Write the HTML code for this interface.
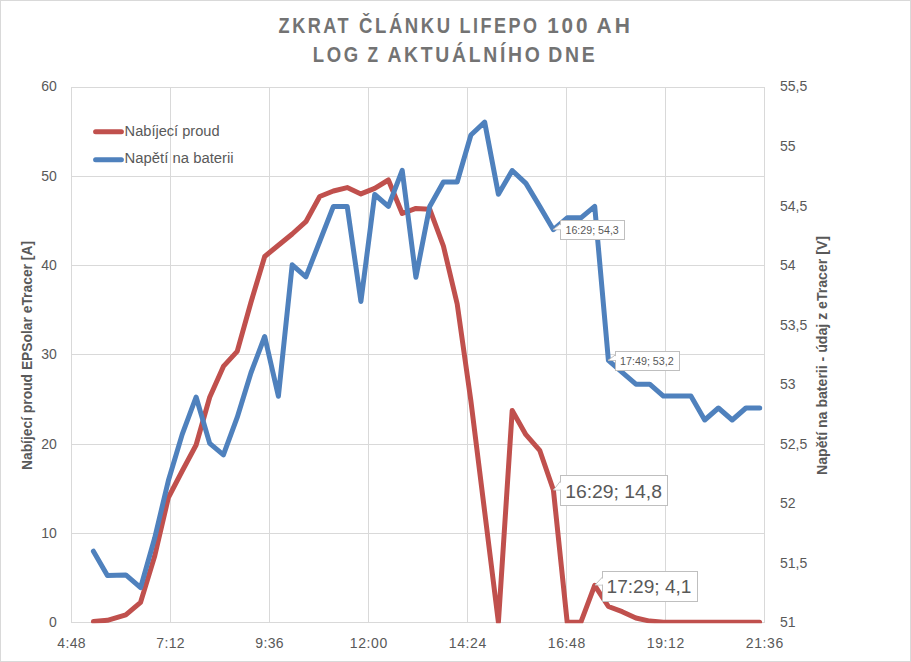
<!DOCTYPE html><html><head><meta charset="utf-8"><style>html,body{margin:0;padding:0;background:#fff}svg{display:block}text{font-family:"Liberation Sans",sans-serif}</style></head><body>
<svg width="911" height="662" viewBox="0 0 911 662">
<rect x="0.5" y="0.5" width="910" height="661" fill="#fff" stroke="#d9d9d9" stroke-width="1"/>
<defs><clipPath id="pa"><rect x="70" y="80" width="696" height="543.3"/></clipPath></defs>
<path d="M71.5 87V622.5 M170.5 87V622.5 M269.5 87V622.5 M368.5 87V622.5 M467.5 87V622.5 M566.5 87V622.5 M665.5 87V622.5 M764.5 87V622.5 M71 87.5H765 M71 176.5H765 M71 265.5H765 M71 354.5H765 M71 444.5H765 M71 533.5H765 M71 622.5H765" stroke="#d9d9d9" stroke-width="1" fill="none"/>
<g clip-path="url(#pa)" fill="none" stroke-width="5" stroke-linejoin="round" stroke-linecap="round">
<polyline points="93.4,621.6 107.4,620.3 125.8,614.8 140.6,602.3 154.7,556.0 168.4,497.5 182.2,471.0 196.1,445.0 209.7,397.3 223.4,366.4 237.2,351.4 250.9,302.5 264.7,256.5 278.4,245.3 292.2,234.0 305.9,221.7 319.7,196.5 333.4,191.0 347.2,187.6 360.9,193.9 374.7,188.4 388.4,180.0 402.2,213.5 415.9,208.4 429.7,209.2 443.4,246.0 457.2,304.0 470.9,401.0 484.7,512.0 498.4,622.2 512.2,410.5 525.9,434.7 539.7,450.3 553.4,490.0 567.2,622.2 580.9,622.2 594.7,585.4 608.4,606.5 622.2,611.7 635.9,618.0 649.7,621.1 663.4,622.2 677.1,622.2 690.9,622.2 704.6,622.2 718.4,622.2 732.1,622.2 745.9,622.2 759.6,622.2" stroke="#c0504d"/>
<polyline points="93.4,551.2 107.4,575.4 125.8,574.9 140.6,587.6 154.7,538.0 168.4,480.5 182.2,434.4 196.1,397.0 209.7,443.4 223.4,454.8 237.2,417.4 250.9,373.0 264.7,336.5 278.4,396.3 292.2,264.8 305.9,276.9 319.7,241.5 333.4,206.4 347.2,206.4 360.9,301.5 374.7,194.5 388.4,206.4 402.2,170.3 415.9,277.2 429.7,206.5 443.4,182.0 457.2,182.0 470.9,135.0 484.7,122.2 498.4,194.3 512.2,170.5 525.9,183.4 539.7,206.4 553.4,229.7 567.2,217.8 580.9,217.8 594.7,206.3 608.4,360.4 622.2,372.3 635.9,384.2 649.7,384.2 663.4,396.1 677.2,396.1 690.9,396.1 704.7,420.0 718.4,408.0 732.2,420.0 745.9,408.0 759.7,408.0" stroke="#4f81bd"/>
</g>
<g fill="#737373" font-weight="bold" font-size="21.5" letter-spacing="3">
<text transform="translate(278.60,32.8) scale(0.8424,1)">ZKRAT</text>
<text transform="translate(359.00,32.8) scale(0.8627,1)">ČLÁNKU</text>
<text transform="translate(459.40,32.8) scale(0.8384,1)">LIFEPO</text>
<text transform="translate(547.20,32.8) scale(0.9628,1)">100</text>
<text transform="translate(596.60,32.8) scale(0.9769,1)">AH</text>
<text transform="translate(312.80,61.9) scale(0.8607,1)">LOG</text>
<text transform="translate(367.60,61.9) scale(0.8044,1)">Z</text>
<text transform="translate(387.40,61.9) scale(0.9016,1)">AKTUÁLNÍHO</text>
<text transform="translate(548.20,61.9) scale(0.9028,1)">DNE</text>
</g>
<g fill="#595959" font-size="14">
<text x="56.8" y="91.2" text-anchor="end">60</text>
<text x="56.8" y="181.2" text-anchor="end">50</text>
<text x="56.8" y="270.2" text-anchor="end">40</text>
<text x="56.8" y="359.2" text-anchor="end">30</text>
<text x="56.8" y="449.2" text-anchor="end">20</text>
<text x="56.8" y="538.2" text-anchor="end">10</text>
<text x="56.8" y="627.2" text-anchor="end">0</text>
<text x="780" y="91.2">55,5</text>
<text x="780" y="151.2">55</text>
<text x="780" y="211.2">54,5</text>
<text x="780" y="270.2">54</text>
<text x="780" y="330.2">53,5</text>
<text x="780" y="389.2">53</text>
<text x="780" y="449.2">52,5</text>
<text x="780" y="508.2">52</text>
<text x="780" y="568.2">51,5</text>
<text x="780" y="627.2">51</text>
<text x="71.5" y="648" text-anchor="middle" textLength="28.3" lengthAdjust="spacing">4:48</text>
<text x="170.5" y="648" text-anchor="middle" textLength="28.3" lengthAdjust="spacing">7:12</text>
<text x="269.5" y="648" text-anchor="middle" textLength="28.3" lengthAdjust="spacing">9:36</text>
<text x="368.5" y="648" text-anchor="middle" textLength="37.6" lengthAdjust="spacing">12:00</text>
<text x="467.5" y="648" text-anchor="middle" textLength="37.6" lengthAdjust="spacing">14:24</text>
<text x="566.5" y="648" text-anchor="middle" textLength="37.6" lengthAdjust="spacing">16:48</text>
<text x="665.5" y="648" text-anchor="middle" textLength="37.6" lengthAdjust="spacing">19:12</text>
<text x="764.5" y="648" text-anchor="middle" textLength="37.6" lengthAdjust="spacing">21:36</text>
</g>
<g fill="#595959" font-weight="bold" font-size="14">
<text transform="translate(32,470) rotate(-90)" textLength="229" lengthAdjust="spacingAndGlyphs">Nabíjecí proud EPSolar eTracer [A]</text>
<text transform="translate(827.2,475) rotate(-90)" textLength="239" lengthAdjust="spacingAndGlyphs">Napětí na baterii - údaj z eTracer [V]</text>
</g>
<g stroke-width="5" stroke-linecap="round"><path d="M95.6 131.8H121.4" stroke="#c0504d"/><path d="M95.6 159.8H121.4" stroke="#4f81bd"/></g>
<g fill="#595959" font-size="14">
<text x="124.6" y="135.8" textLength="95" lengthAdjust="spacingAndGlyphs">Nabíjecí proud</text>
<text x="124.6" y="162.9" textLength="109" lengthAdjust="spacingAndGlyphs">Napětí na baterii</text>
</g>
<path d="M560.5 223.8 L553 229.7 L560.5 229.7" fill="#fff" stroke="#bfbfbf" stroke-width="1"/>
<rect x="560.5" y="220.5" width="64" height="19" fill="#fff" stroke="#bfbfbf" stroke-width="1"/>
<path d="M561 224.8 L554.5 229.2 L561 229.2Z" fill="#fff"/>
<text x="565.5" y="234.2" font-size="11" fill="#595959" textLength="53.299999999999955" lengthAdjust="spacingAndGlyphs">16:29; 54,3</text>
<path d="M615.5 354.8 L608 360.4 L615.5 360.4" fill="#fff" stroke="#bfbfbf" stroke-width="1"/>
<rect x="615.5" y="351.5" width="64" height="19" fill="#fff" stroke="#bfbfbf" stroke-width="1"/>
<path d="M616 355.8 L609.5 359.9 L616 359.9Z" fill="#fff"/>
<text x="620" y="365.2" font-size="11" fill="#595959" textLength="53.799999999999955" lengthAdjust="spacingAndGlyphs">17:49; 53,2</text>
<path d="M560.5 481.0 L553.5 490 L560.5 490" fill="#fff" stroke="#bfbfbf" stroke-width="1"/>
<rect x="560.5" y="475.5" width="107" height="30" fill="#fff" stroke="#bfbfbf" stroke-width="1"/>
<path d="M561 482.0 L555.0 489.5 L561 489.5Z" fill="#fff"/>
<text x="565.2" y="497.5" font-size="17.5" fill="#595959" textLength="96.79999999999995" lengthAdjust="spacingAndGlyphs">16:29; 14,8</text>
<path d="M602.5 577.0 L595 585 L602.5 585" fill="#fff" stroke="#bfbfbf" stroke-width="1"/>
<rect x="602.5" y="571.5" width="95" height="30" fill="#fff" stroke="#bfbfbf" stroke-width="1"/>
<path d="M603 578.0 L596.5 584.5 L603 584.5Z" fill="#fff"/>
<text x="606.5" y="593" font-size="17.5" fill="#595959" textLength="85.0" lengthAdjust="spacingAndGlyphs">17:29; 4,1</text>
</svg></body></html>
